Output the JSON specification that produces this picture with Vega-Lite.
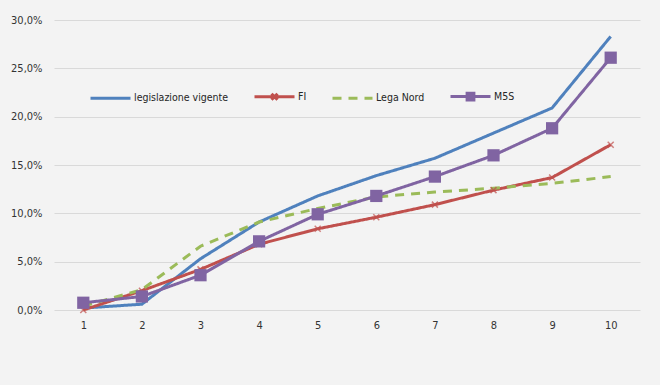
{
  "$schema": "https://vega.github.io/schema/vega-lite/v6.json",
  "width": 586,
  "height": 290,
  "autosize": {"type": "none"},
  "padding": {"left": 54, "top": 20, "right": 20, "bottom": 75},
  "background": "#f3f3f3",
  "config": {
    "view": {"stroke": null},
    "font": "'DejaVu Sans Condensed', Roboto, sans-serif",
    "axis": {"labelFont": "'DejaVu Sans Condensed', Roboto, sans-serif", "labelColor": "#333333", "labelFontSize": 11}
  },
  "data": {"values": [
    {"x": 1, "serie": "legislazione vigente", "v": 0.002},
    {"x": 2, "serie": "legislazione vigente", "v": 0.006},
    {"x": 3, "serie": "legislazione vigente", "v": 0.053},
    {"x": 4, "serie": "legislazione vigente", "v": 0.091},
    {"x": 5, "serie": "legislazione vigente", "v": 0.118},
    {"x": 6, "serie": "legislazione vigente", "v": 0.139},
    {"x": 7, "serie": "legislazione vigente", "v": 0.157},
    {"x": 8, "serie": "legislazione vigente", "v": 0.183},
    {"x": 9, "serie": "legislazione vigente", "v": 0.209},
    {"x": 10, "serie": "legislazione vigente", "v": 0.283},
    {"x": 1, "serie": "FI", "v": 0.0},
    {"x": 2, "serie": "FI", "v": 0.020},
    {"x": 3, "serie": "FI", "v": 0.042},
    {"x": 4, "serie": "FI", "v": 0.068},
    {"x": 5, "serie": "FI", "v": 0.084},
    {"x": 6, "serie": "FI", "v": 0.096},
    {"x": 7, "serie": "FI", "v": 0.109},
    {"x": 8, "serie": "FI", "v": 0.124},
    {"x": 9, "serie": "FI", "v": 0.137},
    {"x": 10, "serie": "FI", "v": 0.171},
    {"x": 1, "serie": "Lega Nord", "v": 0.004},
    {"x": 2, "serie": "Lega Nord", "v": 0.021},
    {"x": 3, "serie": "Lega Nord", "v": 0.066},
    {"x": 4, "serie": "Lega Nord", "v": 0.091},
    {"x": 5, "serie": "Lega Nord", "v": 0.105},
    {"x": 6, "serie": "Lega Nord", "v": 0.117},
    {"x": 7, "serie": "Lega Nord", "v": 0.122},
    {"x": 8, "serie": "Lega Nord", "v": 0.126},
    {"x": 9, "serie": "Lega Nord", "v": 0.131},
    {"x": 10, "serie": "Lega Nord", "v": 0.138},
    {"x": 1, "serie": "M5S", "v": 0.0075},
    {"x": 2, "serie": "M5S", "v": 0.014},
    {"x": 3, "serie": "M5S", "v": 0.036},
    {"x": 4, "serie": "M5S", "v": 0.071},
    {"x": 5, "serie": "M5S", "v": 0.099},
    {"x": 6, "serie": "M5S", "v": 0.118},
    {"x": 7, "serie": "M5S", "v": 0.138},
    {"x": 8, "serie": "M5S", "v": 0.160},
    {"x": 9, "serie": "M5S", "v": 0.188},
    {"x": 10, "serie": "M5S", "v": 0.261}
  ]},
  "encoding": {
    "x": {"field": "x", "type": "ordinal", "scale": {"type": "point", "padding": 0.5},
      "axis": {"title": null, "labelAngle": 0, "domain": false, "ticks": false, "labelPadding": 9, "grid": false}},
    "y": {"field": "v", "type": "quantitative", "scale": {"domain": [0, 0.3], "nice": false},
      "axis": {"title": null, "values": [0, 0.05, 0.1, 0.15, 0.2, 0.25, 0.3], "labelOverlap": false, "domain": false, "ticks": false, "labelPadding": 12,
        "gridColor": "#d9d9d9", "gridWidth": 1.2,
        "labelExpr": "replace(format(datum.value, '.1%'), '.', ',')"}}
  },
  "layer": [
    {
      "mark": {"type": "line", "strokeWidth": 3},
      "encoding": {
        "color": {"field": "serie", "type": "nominal",
          "scale": {"domain": ["legislazione vigente", "FI", "Lega Nord", "M5S"], "range": ["#4F81BD", "#C0504D", "#9BBB59", "#8064A2"]},
          "legend": {"title": null, "orient": "none", "direction": "horizontal", "legendX": 35, "legendY": 55,
            "symbolSize": 1600, "symbolStrokeWidth": 3, "columnPadding": 19, "labelOffset": 2,
            "labelFont": "'DejaVu Sans Condensed', Roboto, sans-serif", "labelFontSize": 10.5, "labelColor": "#262626",
            "encode": {"symbols": {"update": {
              "shape": {"signal": "datum.value === 'FI' ? 'M-1,0H1M-0.15,-0.15L0.15,0.15M-0.15,0.15L0.15,-0.15' : datum.value === 'M5S' ? 'M-1,0H1M-0.17,-0.17H0.17V0.17H-0.17Z' : 'M-1,0H1'"},
              "strokeDash": {"signal": "datum.value === 'Lega Nord' ? [9,7] : [1,0]"},
              "fill": {"signal": "scale('color', datum.value)"},
              "fillOpacity": {"value": 1}
            }}}}},
        "strokeDash": {"field": "serie", "type": "nominal",
          "scale": {"domain": ["legislazione vigente", "FI", "Lega Nord", "M5S"], "range": [[1, 0], [1, 0], [9, 7], [1, 0]]},
          "legend": null}
      }
    },
    {
      "transform": [{"filter": "datum.serie === 'FI'"}],
      "mark": {"type": "point", "shape": "M-1,-1L1,1M-1,1L1,-1", "filled": false, "size": 36, "strokeWidth": 1.5, "color": "#C0504D"}
    },
    {
      "transform": [{"filter": "datum.serie === 'M5S'"}],
      "mark": {"type": "point", "shape": "square", "filled": true, "size": 150, "opacity": 1, "color": "#8064A2"}
    }
  ]
}
